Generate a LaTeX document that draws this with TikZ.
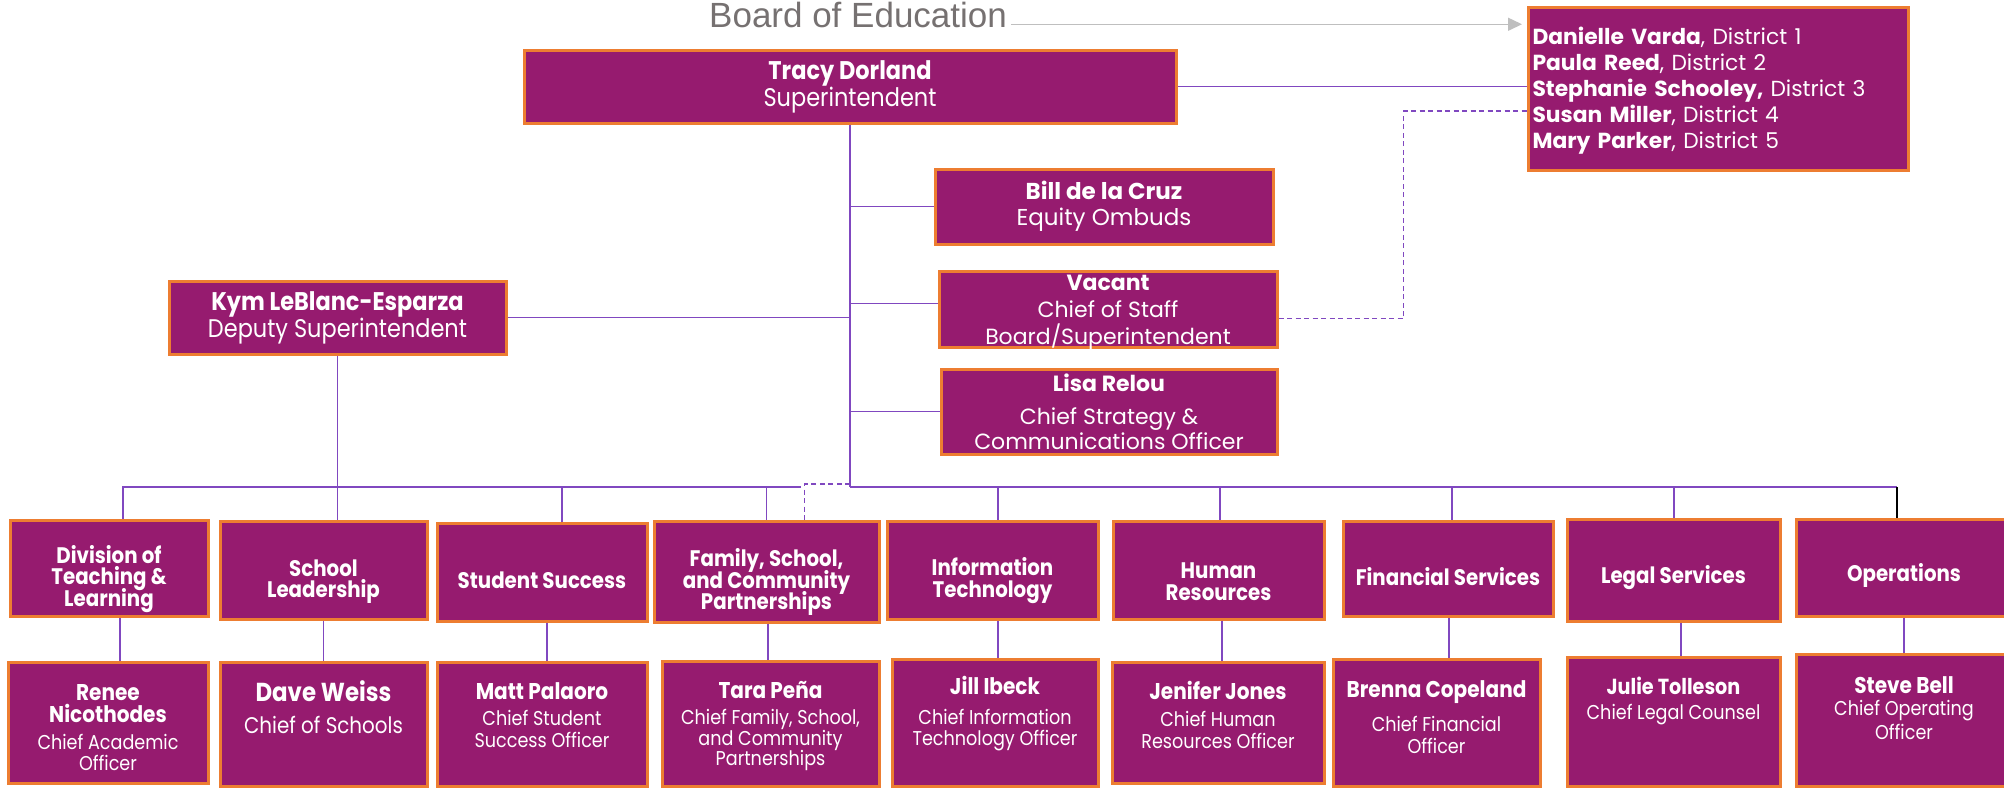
\documentclass[tikz,border=0pt]{standalone}
\usepackage{fontspec}
\setmainfont{Poppins}
\newfontfamily\cond[FakeStretch=0.88]{Poppins}
\newfontfamily\boefont{Liberation Sans}
\usetikzlibrary{arrows.meta}
\definecolor{boxfill}{RGB}{150,27,111}
\definecolor{boxline}{RGB}{237,125,49}
\definecolor{linkcol}{RGB}{128,72,192}
\definecolor{boegray}{RGB}{118,113,113}
\definecolor{arrowgray}{RGB}{191,191,191}
\newcommand\who[1]{{\fontsize{22.8}{24}\selectfont\bfseries #1}}
\newcommand\pad{\mbox{}\\[18pt]}
\newcommand\tight{\lineskiplimit=-20pt\relax}

\begin{document}
\begin{tikzpicture}[x=1pt,y=-1pt,
	box/.style={draw=boxline,line width=3pt,fill=boxfill,text=white,align=center,inner sep=1pt,font=\cond\fontsize{20}{20.5}\selectfont},
	head/.style={box,font=\cond\fontsize{22.5}{21.5}\selectfont\bfseries\tight},
	headone/.style={head,text height=34pt},
	link/.style={draw=linkcol,line width=1.6pt},
	dlink/.style={link,dash pattern=on 5pt off 3.5pt}]
	\useasboundingbox (0,0) rectangle (2004,788);
	\node[font=\boefont\fontsize{35}{40}\selectfont,text=boegray,anchor=base west,inner sep=0pt] (boe) at (709,27) {Board of Education};
	\node[box,anchor=north west,minimum width=380pt,minimum height=163pt,text width=372pt,align=left,font=\fontsize{21.8}{26}\selectfont] (board) at (1527,6)
		{\rule{0pt}{21pt}\textbf{Danielle Varda}, District 1\\\textbf{Paula Reed}, District 2\\\textbf{Stephanie Schooley,} District 3\\\textbf{Susan Miller}, District 4\\\textbf{Mary Parker}, District 5};
	\node[box,minimum width=652pt,minimum height=73pt,font=\cond\fontsize{25.5}{24}\selectfont] (tracy) at (850,86.5) {\textbf{Tracy Dorland}\\Superintendent};
	\node[box,minimum width=338pt,minimum height=75pt,font=\fontsize{23}{25.5}\selectfont] (bill) at (1104,206.5) {\textbf{Bill de la Cruz}\\Equity Ombuds};
	\node[box,minimum width=338pt,minimum height=73pt,inner ysep=-3pt,font=\fontsize{22}{27}\selectfont] (vacant) at (1108,309.5) {\rule{0pt}{22pt}\textbf{Vacant}\\Chief of Staff\\Board/Superintendent};
	\node[box,minimum width=336pt,minimum height=85pt,font=\fontsize{22}{25}\selectfont] (lisa) at (1109,411.5) {\textbf{Lisa Relou}\\[8pt]Chief Strategy \&\\Communications Officer};
	\node[box,minimum width=337pt,minimum height=73pt,font=\cond\fontsize{25.5}{23}\selectfont] (kym) at (337.5,317.5) {\textbf{Kym LeBlanc-Esparza}\\Deputy Superintendent};

	\node[head,minimum width=198pt,minimum height=96pt] (div) at (109,568) {\pad Division of\\Teaching \&\\Learning};
	\node[head,minimum width=207pt,minimum height=98pt] (school) at (323.5,570) {\pad School\\Leadership};
	\node[headone,minimum width=210pt,minimum height=98pt] (student) at (542,572) {Student Success};
	\node[head,minimum width=225pt,minimum height=101pt] (family) at (766.5,571.5) {\pad Family, School,\\and Community\\Partnerships};
	\node[head,minimum width=211pt,minimum height=98pt] (it) at (992.5,570) {\pad Information\\Technology};
	\node[head,minimum width=211pt,minimum height=98pt] (hr) at (1218.5,570) {\pad Human\\Resources};
	\node[headone,minimum width=210pt,minimum height=95pt] (fin) at (1448,568.5) {Financial Services};
	\node[headone,minimum width=213pt,minimum height=102pt] (legal) at (1673.5,570) {Legal Services};
	\node[headone,minimum width=216pt,minimum height=97pt] (ops) at (1904,567.5) {Operations};

	\node[box,minimum width=200pt,minimum height=121pt] (renee) at (108,722.5) {\who{\rule{0pt}{26pt}Renee}\\[1.5pt]\who{Nicothodes}\\[6.5pt]Chief Academic\\Officer};
	\node[box,minimum width=207pt,minimum height=124pt] (dave) at (323.5,724) {{\fontsize{26}{26}\selectfont\bfseries Dave Weiss}\\[11pt]{\fontsize{22.6}{24}\selectfont Chief of Schools}\\[13.5pt]\mbox{}};
	\node[box,minimum width=210pt,minimum height=124pt] (matt) at (542,724) {\who{Matt Palaoro}\\[5.5pt]Chief Student\\[1.5pt]Success Officer\\[-2.5pt]\mbox{}};
	\node[box,minimum width=217pt,minimum height=125pt] (tara) at (770.5,723.5) {\who{\rule{0pt}{22pt}Tara Peña}\\[6pt]Chief Family, School,\\and Community\\Partnerships};
	\node[box,minimum width=206pt,minimum height=127pt] (jill) at (995,722.5) {\who{Jill Ibeck}\\[9.5pt]Chief Information\\Technology Officer\\[2.5pt]\mbox{}};
	\node[box,minimum width=212pt,minimum height=121pt] (jenifer) at (1218,722.5) {\who{Jenifer Jones}\\[6.5pt]Chief Human\\[1.5pt]Resources Officer\\[-4.5pt]\mbox{}};
	\node[box,minimum width=207pt,minimum height=127pt] (brenna) at (1436.5,722.5) {\who{Brenna Copeland}\\[11.5pt]Chief Financial\\[1.5pt]Officer\\[-9.5pt]\mbox{}};
	\node[box,minimum width=213pt,minimum height=129pt] (julie) at (1673.5,721.5) {{\fontsize{21.8}{24}\selectfont\bfseries Julie Tolleson}\\[4.5pt]Chief Legal Counsel\\[25.5pt]\mbox{}};
	\node[box,minimum width=216pt,minimum height=132pt] (steve) at (1904,720) {\who{Steve Bell}\\[1.5pt]Chief Operating\\[1.5pt]Officer\\[3.5pt]\mbox{}};

	\coordinate (hub) at (850,487);
	\draw[arrowgray,line width=1.5pt,-{Triangle[length=14pt,width=13pt]}] ([xshift=4pt]boe.mid east) -- ([xshift=-5pt]board.west |- boe.mid east);
	\draw[link] (tracy.east) -- (tracy.east -| board.west);
	\draw[link] (tracy.south) -- (tracy.south |- hub);
	\draw[link] (bill.west -| hub) -- (bill.west);
	\draw[link] ([yshift=6pt]vacant.west -| hub) -- ([yshift=6pt]vacant.west);
	\draw[link] (lisa.west -| hub) -- (lisa.west);
	\draw[link] (kym.east) -- (kym.east -| hub);
	\draw[link] (kym.south) -- (kym.south |- school.north);
	\draw[dlink] ([yshift=-9pt]vacant.east) -- ++(125,0) |- ([yshift=-22pt]board.west);
	\draw[link] ([xshift=14pt]div.north) |- ([xshift=34pt]family.north |- hub);
	\draw[link] (hub) -- ([xshift=-7pt]ops.north |- hub);
	\draw[line width=1.6pt] ([xshift=-7pt]ops.north |- hub) -- ([xshift=-7pt]ops.north);
	\draw[dlink] ([yshift=3pt]hub) -| ([xshift=38pt]family.north);
	\foreach \n/\d in {student/20,family/0,it/5.5,hr/1.5,fin/4,legal/0.5}
		\draw[link] ([xshift=\d pt]\n.north) -- ([xshift=\d pt]\n.north |- hub);
	\foreach \a/\b/\d in {div/renee/11,school/dave/0,student/matt/5,family/tara/1.5,it/jill/5.5,hr/jenifer/3.5,fin/brenna/1,legal/julie/7.5,ops/steve/0}
		\draw[link] ([xshift=\d pt]\a.south) -- ([xshift=\d pt]\a.south |- \b.north);
\end{tikzpicture}
\end{document}
